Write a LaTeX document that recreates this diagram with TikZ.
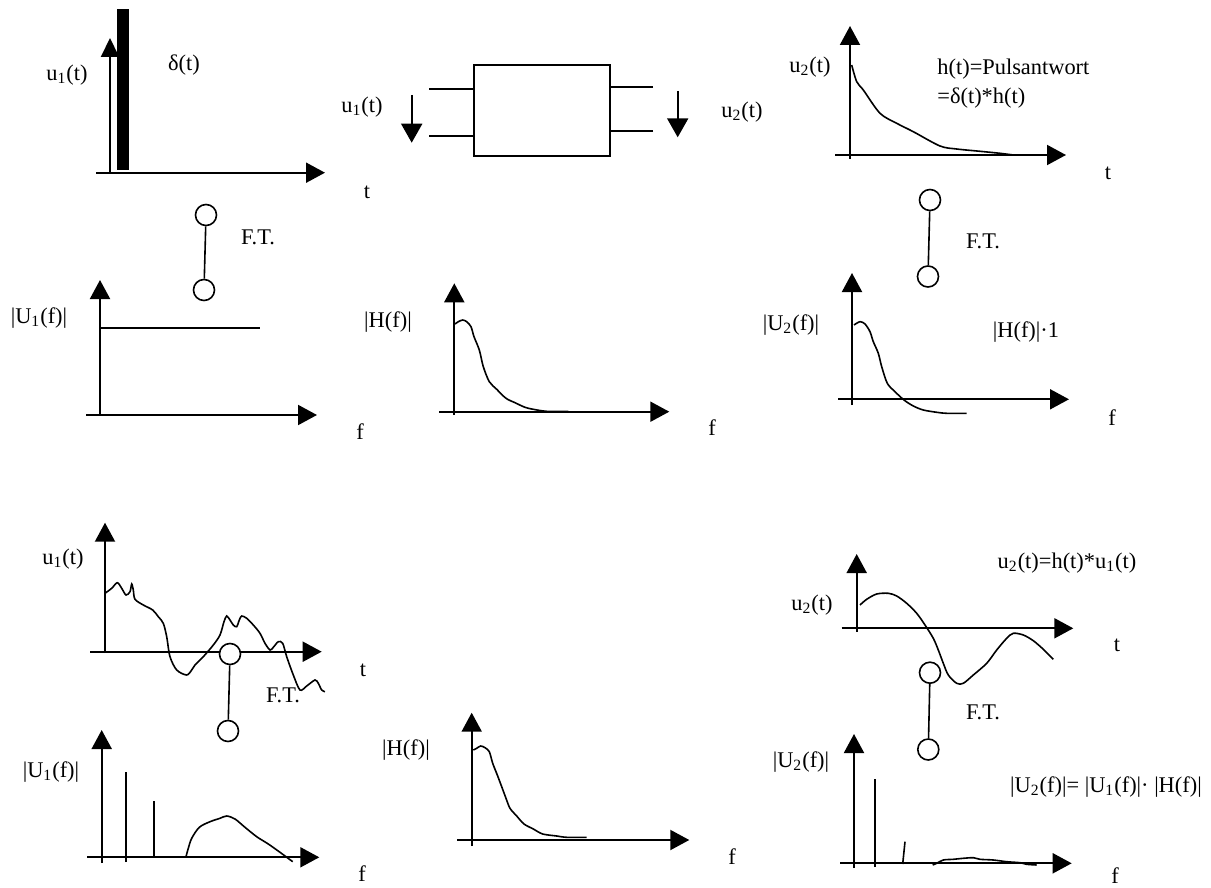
\documentclass[tikz,border=0pt]{standalone}
\usepackage{fontspec}
\setmainfont{Liberation Serif}
\usetikzlibrary{arrows.meta}
\tikzset{
  ax/.style={line width=1pt,-{Triangle[length=9.5pt,width=10pt]}},
  sarr/.style={line width=1pt,-{Triangle[length=9.5pt,width=10.5pt]}},
  crv/.style={line width=0.8pt,smooth,tension=0.5},
  spike/.style={line width=0.8pt},
  ftc/.style={circle,draw,fill=white,line width=0.8pt,minimum size=10.5pt,inner sep=0pt},
  ftl/.style={line width=0.8pt},
  lbl/.style={inner sep=0pt,font=\fontsize{11.2}{13}\selectfont},
}
\begin{document}
\begin{tikzpicture}[x=0.5pt,y=-0.5pt]
\useasboundingbox (0,0) rectangle (1211,888);

% ---------- top-left: delta ----------
\fill (117,9) rectangle (129,170);
\draw[ax] (96,172.7) -- (325,172.7);
\draw[line width=1pt,-{Triangle[length=9.5pt,width=9pt]}] (110,172.7) -- (110,38);
\node[lbl] (lu1a) at (67,75) {u\textsubscript{1}(t)};
\node[lbl] (ldelta) at (184,65) {δ(t)};
\node[lbl] (lta) at (367,192) {t};

% FT link top-left
\node[ftc] (fa1) at (206,215) {};
\node[ftc] (fa2) at (204,290) {};
\draw[ftl] (fa1) -- (fa2);
\node[lbl] (lfta) at (258,237) {F.T.};

% ---------- top-middle: block ----------
\node[draw,line width=1pt,minimum width=68pt,minimum height=45.3pt,inner sep=0pt] (box) at (542,110.4) {};
\coordinate (li1) at (429,89.3);
\coordinate (li2) at (429,135.7);
\coordinate (lo1) at (653,87.3);
\coordinate (lo2) at (653,131);
\draw[line width=1pt] (li1) -- (li1 -| box.west);
\draw[line width=1pt] (li2) -- (li2 -| box.west);
\draw[line width=1pt] (lo1) -- (lo1 -| box.east);
\draw[line width=1pt] (lo2) -- (lo2 -| box.east);
\coordinate (ai1) at (411.7,95);
\coordinate (ai2) at (411.7,142.7);
\coordinate (ao1) at (677.7,91);
\coordinate (ao2) at (677.7,137.3);
\draw[sarr] (ai1) -- (ai2);
\draw[sarr] (ao1) -- (ao2);
\node[lbl] (lbu1) at (362,107) {u\textsubscript{1}(t)};
\node[lbl] (lbu2) at (742,112) {u\textsubscript{2}(t)};

% ---------- top-right: impulse response ----------
\draw[ax] (835,155) -- (1066,155);
\draw[ax] (850,159) -- (850,26);
\draw[crv] plot coordinates {(851.7,65) (856.7,81.7) (863.3,90) (880,113.3) (896.7,123.3) (913.3,131.7) (940,146) (956.7,149) (980,151.3) (1000,153.3) (1013.3,155)};
\node[lbl] (lu2a) at (810,67) {u\textsubscript{2}(t)};
\node[lbl,anchor=west] (lh1) at (937,69) {h(t)=Pulsantwort};
\node[lbl,anchor=west] (lh2) at (937,98) {=δ(t)*h(t)};
\node[lbl] (ltc) at (1108,173) {t};

% FT link top-right
\node[ftc] (fb1) at (930,200) {};
\node[ftc] (fb2) at (928,276.5) {};
\draw[ftl] (fb1) -- (fb2);
\node[lbl] (lftb) at (983,241) {F.T.};

% ---------- row 2 left: |U1(f)| flat ----------
\draw[ax] (86,415) -- (317,415);
\draw[ax] (100,415) -- (100,280);
\draw[spike] (100,327.7) -- (260,327.7);
\node[lbl] (lU1a) at (39,318) {|U\textsubscript{1}(f)|};
\node[lbl] (lfa) at (360,432) {f};

% ---------- row 2 middle: |H(f)| ----------
\draw[ax] (439,411.7) -- (669.3,411.7);
\draw[ax] (454.3,415) -- (454.3,283.3);
\draw[crv] plot coordinates {(455,324) (458.3,321.7) (462.7,320) (466.7,321.7) (471,326.7) (474,336.7) (479.3,350) (483.3,366.7) (489.3,381.7) (496.7,389.3) (506,398.3) (515,402.7) (525,407.3) (533.3,409.3) (546.7,411.3) (568.3,411.3)};
\node[lbl] (lHa) at (388,322) {|H(f)|};
\node[lbl] (lfb) at (712,428) {f};

% ---------- row 2 right: |U2(f)| ----------
\draw[ax] (838,399.3) -- (1069,399.3);
\draw[ax] (852,405) -- (852,273);
\draw[crv] plot coordinates {(854,325) (860,321.7) (865,324) (870,331.7) (873.3,341.7) (878.3,353.3) (881.7,366.7) (887.3,383.3) (895,391.7) (904,400) (913.3,406) (923.3,410) (936.7,412.3) (946.7,413.3) (966.7,413.3)};
\node[lbl] (lU2a) at (791,325) {|U\textsubscript{2}(f)|};
\node[lbl] (lH1) at (1026,332) {|H(f)|·1};
\node[lbl] (lfc) at (1112,418) {f};

% ---------- row 3 left: u1(t) noisy ----------
\draw[ax] (90,651.7) -- (321.7,651.7);
\draw[ax] (105,653) -- (105,522.7);
\draw[crv] plot coordinates {(105,593.3) (111.7,588.3) (117.3,582.7) (121.7,588.3) (126,595) (130,591.7) (131.7,584) (133.3,590) (135,599.3) (143.3,605) (152.7,610) (158.3,616.7) (163.3,623.3) (166.7,636.7) (170,656.7) (176.7,670) (186.7,675) (191.7,670) (195,665) (203.3,656.7) (213.3,645) (220,635) (224,621.7) (226.7,616) (230,620) (233.3,625) (236.7,626.7) (239.3,620) (241.7,616) (246.7,618.3) (253.3,625) (260,633.3) (265,643.3) (270,650) (273.3,647.3) (278.3,641.7) (282.7,643.3) (286.7,656.7) (293.3,675) (300,690) (306.7,686) (315,680) (318.3,683.3) (321.7,690) (325,691.7)};
\node[lbl] (lu1c) at (63,559) {u\textsubscript{1}(t)};
\node[lbl] (ltd) at (363,670) {t};

% FT link bottom-left
\node[ftc] (fc1) at (230,654) {};
\node[ftc] (fc2) at (228,731) {};
\draw[ftl] (fc1) -- (fc2);
\node[lbl] (lftc) at (283,695) {F.T.};

% ---------- row 3 right: u2(t) ----------
\draw[ax] (841.7,628.3) -- (1073.3,628.3);
\draw[ax] (856.7,631.7) -- (856.7,554);
\draw[crv] plot coordinates {(860,605) (866.7,599.3) (876.7,594) (888.3,593.3) (896.7,596) (906.7,603.3) (916.7,613.3) (925,625) (933.3,638.3) (938.3,650) (943.3,663.3) (948.3,675) (956.7,683.3) (963.3,683.3) (973.3,675) (986.7,663.3) (996.7,650) (1006.7,638.3) (1013.3,633.3) (1023.3,635) (1033.3,640.7) (1043.3,649.3) (1053.3,659.3)};
\node[lbl] (lu2c) at (812,605) {u\textsubscript{2}(t)};
\node[lbl] (lconv) at (1067,563) {u\textsubscript{2}(t)=h(t)*u\textsubscript{1}(t)};
\node[lbl] (lte) at (1117,645) {t};

% FT link bottom-right
\node[ftc] (fd1) at (930,672.7) {};
\node[ftc] (fd2) at (928.3,749.5) {};
\draw[ftl] (fd1) -- (fd2);
\node[lbl] (lftd) at (983,712) {F.T.};

% ---------- row 4 left: |U1(f)| spectrum ----------
\draw[ax] (87,857.3) -- (319.3,857.3);
\draw[ax] (101.7,863) -- (101.7,730);
\draw[spike] (126,862) -- (126,771.7);
\draw[spike] (154,857.3) -- (154,801);
\draw[crv] plot coordinates {(186,856.7) (188.3,848.3) (191.7,838.3) (199.3,827.3) (210,821.7) (220,818.3) (226.7,816) (235,819) (245,827.3) (256.7,836.7) (268.3,844) (280,852.3) (292.7,861.7)};
\node[lbl] (lU1b) at (51,772) {|U\textsubscript{1}(f)|};
\node[lbl] (lfd) at (362,874) {f};

% ---------- row 4 middle: |H(f)| ----------
\draw[ax] (457.3,840) -- (689.3,840);
\draw[ax] (471.7,846) -- (471.7,712.7);
\draw[crv] plot coordinates {(473.3,750) (476.7,748.3) (480.7,746) (485,747.7) (489.3,751.7) (492.7,763.3) (497.3,775) (501.7,786.7) (506,798.3) (510,808.3) (516.7,816) (524,824) (533.3,829) (542.7,834) (556.7,836) (566.7,837.3) (586.7,837.3)};
\node[lbl] (lHb) at (406,750) {|H(f)|};
\node[lbl] (lfe) at (732,857) {f};

% ---------- row 4 right: |U2(f)| spectrum ----------
\draw[ax] (840,863.3) -- (1071.7,863.3);
\draw[ax] (854,868) -- (854,734);
\draw[spike] (875,867) -- (875,779.3);
\draw[spike] (905,841.7) -- (902.7,864);
\draw[crv] plot coordinates {(932.7,865) (936.7,863.3) (943.3,860) (953.3,859.3) (963.3,858.3) (973.3,857.7) (980,859.3) (993.3,860) (1006.7,861.7) (1020,862.7) (1026.7,864.3) (1036.7,865)};
\node[lbl] (lU2b) at (801,762) {|U\textsubscript{2}(f)|};
\node[lbl] (lprod) at (1106,787) {|U\textsubscript{2}(f)|= |U\textsubscript{1}(f)|· |H(f)|};
\node[lbl] (lff) at (1115,876) {f};
\end{tikzpicture}
\end{document}
